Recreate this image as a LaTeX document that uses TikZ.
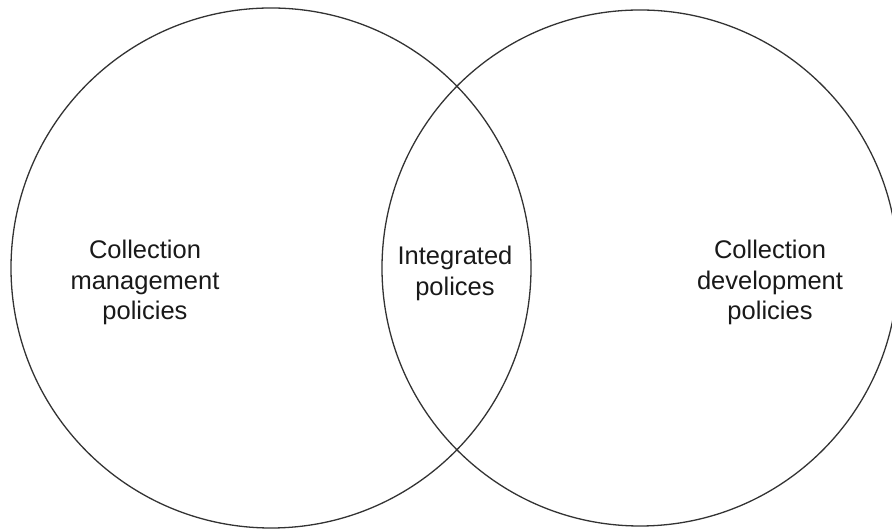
\documentclass[tikz,border=0pt]{standalone}
\usepackage{fontspec}
\setmainfont{Liberation Sans}
\begin{document}
\begin{tikzpicture}[x=1pt,y=1pt,
  ring/.style={draw=black!80, line width=1.3pt},
  label/.style={align=center, inner sep=0pt, text=black!90,
    font=\fontsize{25.5}{30.5}\selectfont}]
  \useasboundingbox (0,0) rectangle (892,529);
  \clip (0,0) rectangle (892,529);
  % the two overlapping sets
  \node[ring, circle, minimum size=520pt, inner sep=0pt] (mgmt) at (271,261) {};
  \node[ring, circle, minimum size=516pt, inner sep=0pt] (dev) at (640,261) {};
  % set labels
  \node[label] (mgmtText) at (145,246.5) {Collection\\management\\policies};
  \node[label] (both) at (455,255.5) {Integrated\\polices};
  \node[label] (devText) at (770,246.5) {Collection\\development\\policies};
\end{tikzpicture}
\end{document}
